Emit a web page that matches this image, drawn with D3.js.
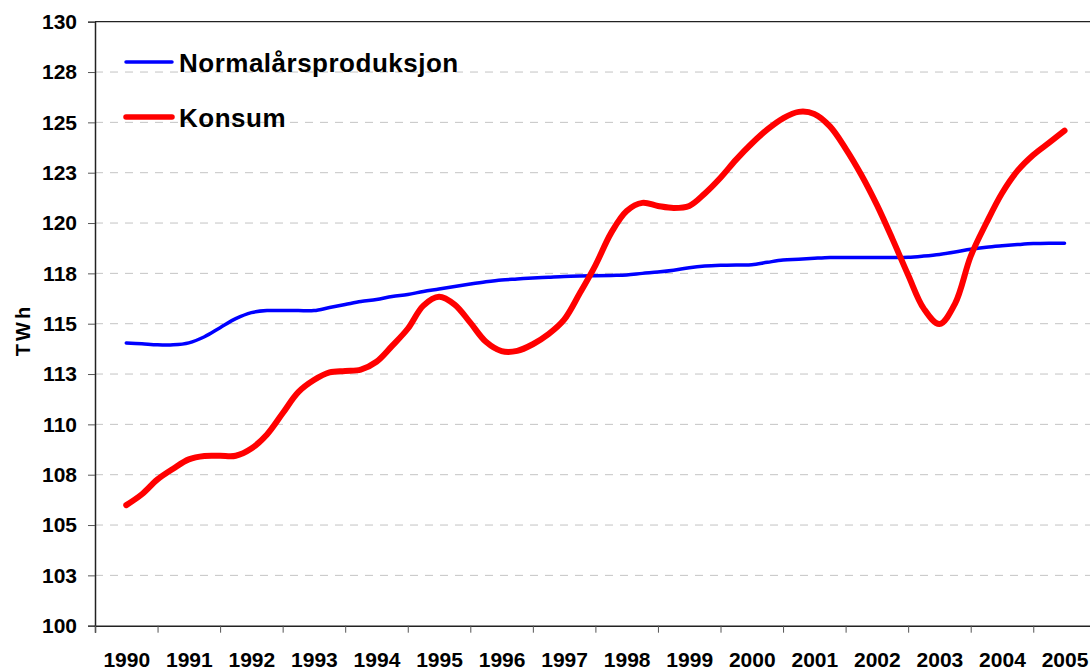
<!DOCTYPE html>
<html>
<head>
<meta charset="utf-8">
<script src="https://cdn.jsdelivr.net/npm/d3@7"></script>
<style>
  body { margin: 0; background: #fff; }
  svg { font-family: "Liberation Sans", Arial, sans-serif; font-weight: bold; }
</style>
</head>
<body>
<div id="chart"></div>
<script>
// years on the category axis
var years = [1990, 1991, 1992, 1993, 1994, 1995, 1996, 1997, 1998, 1999, 2000, 2001, 2002, 2003, 2004, 2005];

// quarterly readings, first point = 1990, last point = 2005
var produksjon = [
  114.04, 114.0, 113.95, 113.95, 114.05, 114.35, 114.8, 115.25,
  115.55, 115.65, 115.65, 115.65, 115.65, 115.8, 115.95, 116.1,
  116.2, 116.35, 116.45, 116.6, 116.72, 116.85, 116.97, 117.08,
  117.17, 117.22, 117.27, 117.31, 117.35, 117.37, 117.38, 117.4,
  117.42, 117.5, 117.57, 117.66, 117.78, 117.86, 117.9, 117.92,
  117.93, 118.05, 118.16, 118.2, 118.25, 118.29, 118.29, 118.29,
  118.29, 118.29, 118.3, 118.36, 118.44, 118.56, 118.7, 118.8,
  118.87, 118.93, 118.98, 119.0, 119.0
];
var konsum = [
  105.99, 106.53, 107.27, 107.8, 108.26, 108.43, 108.44, 108.44,
  108.8, 109.5, 110.55, 111.6, 112.2, 112.58, 112.65, 112.72,
  113.11, 113.9, 114.75, 115.9, 116.34, 115.95, 115.05, 114.1,
  113.64, 113.65, 113.98, 114.48, 115.2, 116.51, 117.9, 119.5,
  120.6, 121.0, 120.85, 120.75, 120.85, 121.47, 122.25, 123.15,
  123.95, 124.65, 125.2, 125.52, 125.42, 124.8, 123.7, 122.4,
  120.9, 119.2, 117.42, 115.75, 114.98, 116.0, 118.35, 120.0,
  121.48, 122.6, 123.38, 123.98, 124.59
];

var yTicks = [100, 102.5, 105, 107.5, 110, 112.5, 115, 117.5, 120, 122.5, 125, 127.5, 130];
var yTickLabels = ["100", "103", "105", "108", "110", "113", "115", "118", "120", "123", "125", "128", "130"];

var seriesNames = ["Normalårsproduksjon", "Konsum"];

var width = 1090, height = 671;
var margin = { top: 21.7, left: 95, bottom: 45.3 };
var step = 62.55; // width of one year on the axis

var svg = d3.select("#chart").append("svg")
  .attr("width", width)
  .attr("height", height);

// x goes from the left edge of 1990 to the right edge of 2005 (runs off the page a bit)
var x = d3.scaleLinear()
  .domain([years[0] - 0.5, years[years.length - 1] + 0.5])
  .range([margin.left, margin.left + step * years.length]);

var y = d3.scaleLinear()
  .domain([100, 130])
  .range([height - margin.bottom, margin.top]);

// dashed grid lines
svg.append("g")
  .selectAll("line")
  .data(yTicks.filter(d => d > 100 && d < 130))
  .join("line")
  .attr("x1", margin.left)
  .attr("x2", width)
  .attr("y1", d => y(d))
  .attr("y2", d => y(d))
  .attr("stroke", "#c4c4c4")
  .attr("stroke-width", 1)
  .attr("stroke-dasharray", "8,7");

// top border of the plot
svg.append("line")
  .attr("x1", margin.left).attr("x2", width)
  .attr("y1", y(130)).attr("y2", y(130))
  .attr("stroke", "#222").attr("stroke-width", 1.3);

// y axis
var yAxis = svg.append("g")
  .attr("transform", `translate(${margin.left},0)`)
  .call(d3.axisLeft(y).tickValues(yTicks).tickSize(7).tickPadding(11)
    .tickFormat((d, i) => yTickLabels[i]));
yAxis.select(".domain").attr("stroke", "#222").attr("stroke-width", 1.5);
yAxis.selectAll(".tick line").attr("stroke", "#555");
yAxis.selectAll("text").attr("font-size", "21px").attr("fill", "#000")
  .attr("font-family", "'Liberation Sans', Arial, sans-serif").attr("font-weight", "bold");

// x axis: tick marks on the year boundaries
var bounds = years.concat([years[years.length - 1] + 1]).map(d => d - 0.5);
var xAxis = svg.append("g")
  .attr("transform", `translate(0,${y(100)})`)
  .call(d3.axisBottom(x).tickValues(bounds).tickSize(7).tickFormat(""));
xAxis.select(".domain").attr("stroke", "#222").attr("stroke-width", 1.5);
xAxis.selectAll(".tick line").attr("stroke", "#555");

// x labels centred in each year
var xLabels = svg.append("g")
  .attr("transform", `translate(0,${y(100)})`)
  .call(d3.axisBottom(x).tickValues(years).tickSize(0).tickPadding(26).tickFormat(d3.format("d")));
xLabels.select(".domain").remove();
xLabels.selectAll("text").attr("font-size", "21px").attr("fill", "#000")
  .attr("font-family", "'Liberation Sans', Arial, sans-serif").attr("font-weight", "bold");

// axis title
svg.append("text")
  .attr("transform", "translate(30,330) rotate(-90)")
  .attr("text-anchor", "middle")
  .attr("font-size", "20px")
  .attr("letter-spacing", "3px")
  .text("TWh");

// lines
var line = d3.line()
  .x((d, i) => x(years[0] + i / 4))
  .y(d => y(d))
  .curve(d3.curveCatmullRom.alpha(0.5));

svg.append("path")
  .datum(produksjon)
  .attr("fill", "none")
  .attr("stroke", "#0000ff")
  .attr("stroke-width", 3.5)
  .attr("stroke-linecap", "round")
  .attr("d", line);

svg.append("path")
  .datum(konsum)
  .attr("fill", "none")
  .attr("stroke", "#ff0000")
  .attr("stroke-width", 6)
  .attr("stroke-linecap", "round")
  .attr("stroke-linejoin", "round")
  .attr("d", line);

// legend
var legend = svg.append("g");
var legendColors = ["#0000ff", "#ff0000"];
var legendWidths = [3.5, 5.5];
var legendY = [62, 117];
legend.selectAll("line")
  .data(seriesNames)
  .join("line")
  .attr("x1", 126).attr("x2", 172)
  .attr("y1", (d, i) => legendY[i]).attr("y2", (d, i) => legendY[i])
  .attr("stroke", (d, i) => legendColors[i])
  .attr("stroke-width", (d, i) => legendWidths[i])
  .attr("stroke-linecap", "round");
legend.selectAll("text")
  .data(seriesNames)
  .join("text")
  .attr("x", 179)
  .attr("y", (d, i) => legendY[i] + 10)
  .attr("font-size", "26px")
  .attr("letter-spacing", "0.5px")
  .text(d => d);
</script>
</body>
</html>
